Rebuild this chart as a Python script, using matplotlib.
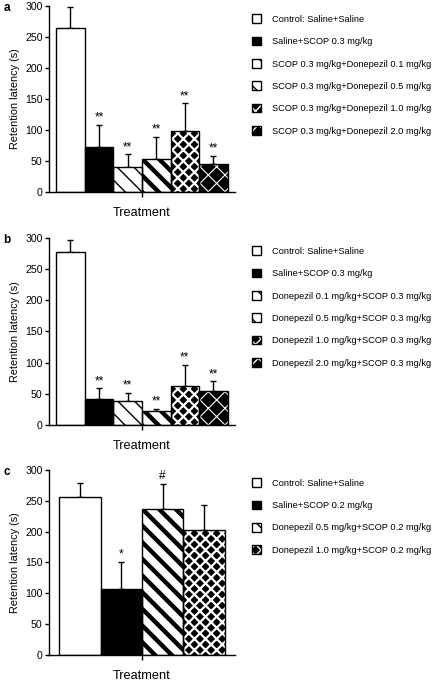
import numpy as np
import matplotlib
matplotlib.use('Agg')
from matplotlib import pyplot as plt
from matplotlib.patches import Patch

plt.rcParams['font.family'] = ['Liberation Sans', 'DejaVu Sans']

# panel a
a_labels = ['Control: Saline+Saline', 'Saline+SCOP 0.3 mg/kg',
            'SCOP 0.3 mg/kg+Donepezil 0.1 mg/kg', 'SCOP 0.3 mg/kg+Donepezil 0.5 mg/kg',
            'SCOP 0.3 mg/kg+Donepezil 1.0 mg/kg', 'SCOP 0.3 mg/kg+Donepezil 2.0 mg/kg']
a_means = [264, 72, 40, 54, 99, 45]
a_err = [35, 36, 21, 35, 44, 13]
a_sig = ['', '**', '**', '**', '**', '**']
a_style = ['white', 'black', 'sparse', 'stripe', 'weave', 'cross']

# panel b
b_labels = ['Control: Saline+Saline', 'Saline+SCOP 0.3 mg/kg',
            'Donepezil 0.1 mg/kg+SCOP 0.3 mg/kg', 'Donepezil 0.5 mg/kg+SCOP 0.3 mg/kg',
            'Donepezil 1.0 mg/kg+SCOP 0.3 mg/kg', 'Donepezil 2.0 mg/kg+SCOP 0.3 mg/kg']
b_means = [278, 42, 39, 22, 62, 55]
b_err = [18, 17, 12, 4, 34, 15]
b_sig = ['', '**', '**', '**', '**', '**']
b_style = ['white', 'black', 'sparse', 'stripe', 'weave', 'cross']

# panel c
c_labels = ['Control: Saline+Saline', 'Saline+SCOP 0.2 mg/kg',
            'Donepezil 0.5 mg/kg+SCOP 0.2 mg/kg', 'Donepezil 1.0 mg/kg+SCOP 0.2 mg/kg']
c_means = [256, 107, 237, 203]
c_err = [23, 44, 41, 41]
c_sig = ['', '*', '#', '']
c_style = ['white', 'black', 'stripe', 'weave']

# face, hatch colour, hatch, hatch linewidth
styles = {
    'white':  ('white', 'black', None, 1.0),
    'black':  ('black', 'black', None, 1.0),
    'sparse': ('white', 'black', '\\\\', 1.0),
    'stripe': ('white', 'black', '\\\\', 3.2),
    'weave':  ('black', 'white', 'xxx', 1.6),
    'cross':  ('black', 'white', 'xx', 0.8),
}


def hatched(patch, lw):
    if hasattr(patch, 'set_hatch_linewidth'):
        patch.set_hatch_linewidth(lw)
    else:
        patch._hatch_linewidth = lw


def panel(ax, letter, labels, means, err, sig, style):
    n = len(means)
    x = np.arange(n)
    for i in range(n):
        face, hc, hatch, hlw = styles[style[i]]
        b = ax.bar(x[i], means[i], 1.0, color=face, edgecolor=hc, hatch=hatch,
                   linewidth=0, zorder=2)
        hatched(b[0], hlw)
        ax.bar(x[i], means[i], 1.0, fill=False, edgecolor='black', linewidth=1.0, zorder=3)
    ax.errorbar(x, means, yerr=[np.zeros(n), err], fmt='none', ecolor='black',
                elinewidth=1.0, capsize=2.3, capthick=1.0, zorder=1)
    for i in range(n):
        if sig[i]:
            ax.text(x[i], means[i] + err[i] + 2, sig[i], ha='center', va='bottom',
                    fontsize=8.5)
    ax.set_xlim(-0.75, n - 0.25)
    ax.set_ylim(0, 300)
    ax.set_yticks(range(0, 301, 50))
    ax.set_xticks([(n - 1) / 2])
    ax.set_xticklabels([''])
    ax.tick_params(axis='y', direction='out', length=3, width=1.0, labelsize=7.6, pad=1.5)
    ax.tick_params(axis='x', direction='out', length=3.5, width=1.0)
    for s in ('top', 'right'):
        ax.spines[s].set_visible(False)
    for s in ('left', 'bottom'):
        ax.spines[s].set_linewidth(1.0)
    ax.set_xlabel('Treatment', fontsize=9.2, labelpad=4)
    ax.set_ylabel('Retention latency (s)', fontsize=7.8, labelpad=4)
    ax.text(-0.245, 0.99, letter, transform=ax.transAxes, fontsize=8.5,
            fontweight='bold', va='center', ha='left')

    handles = []
    for i in range(n):
        face, hc, hatch, hlw = styles[style[i]]
        p = Patch(facecolor=face, edgecolor=hc, hatch=hatch, linewidth=0)
        hatched(p, hlw * 0.7)
        o = Patch(fill=False, edgecolor='black', linewidth=1.0)
        handles.append((p, o))
    ax.legend(handles, labels, loc='upper left', bbox_to_anchor=(1.09, 0.955),
              frameon=False, fontsize=6.7, handlelength=1.05, handleheight=1.05,
              handletextpad=1.15, labelspacing=1.38, borderpad=0, borderaxespad=0)


fig = plt.figure(figsize=(4.37, 6.85), dpi=100)
ax_a = fig.add_axes([0.112, 0.7197, 0.4256, 0.2715])
ax_b = fig.add_axes([0.112, 0.3796, 0.4256, 0.2730])
ax_c = fig.add_axes([0.112, 0.0438, 0.4256, 0.2701])

panel(ax_a, 'a', a_labels, a_means, a_err, a_sig, a_style)
panel(ax_b, 'b', b_labels, b_means, b_err, b_sig, b_style)
panel(ax_c, 'c', c_labels, c_means, c_err, c_sig, c_style)

plt.savefig('out.png', dpi=100)
